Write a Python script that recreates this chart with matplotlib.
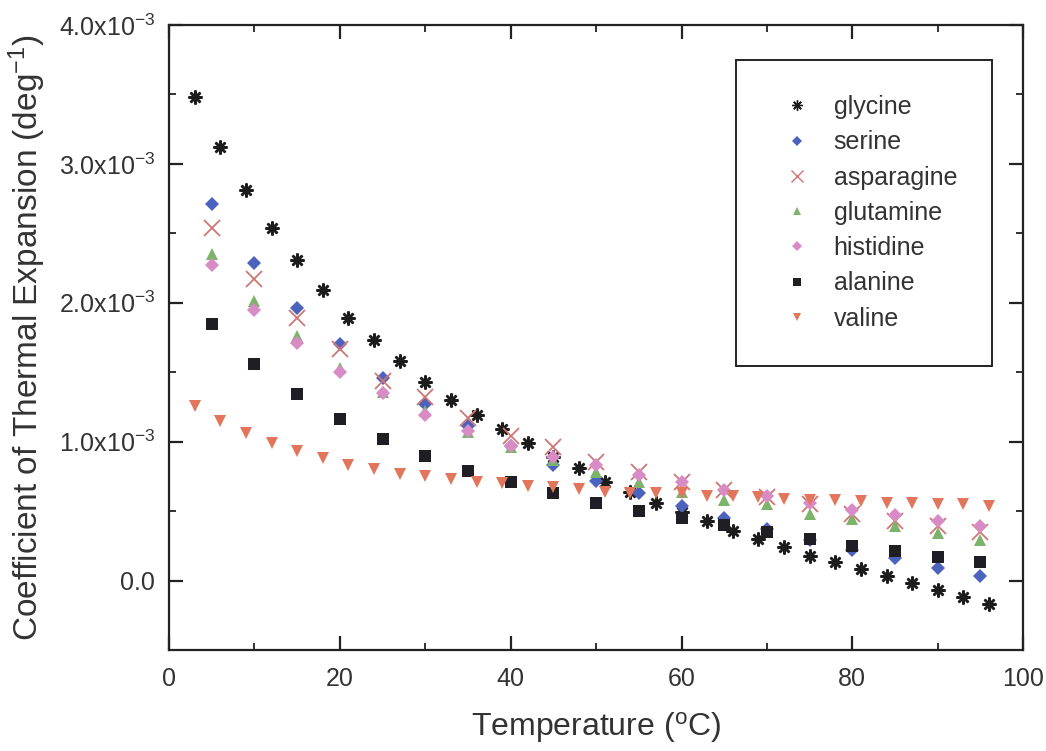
import matplotlib
matplotlib.use("Agg")
import matplotlib.pyplot as plt
from matplotlib.ticker import MultipleLocator, FuncFormatter

plt.rcParams['font.family'] = ['Liberation Sans', 'DejaVu Sans']
plt.rcParams['mathtext.fontset'] = 'custom'
plt.rcParams['mathtext.rm'] = 'Liberation Sans'
plt.rcParams['mathtext.it'] = 'Liberation Sans:italic'

# temperatures (deg C)
t_every3 = [3, 6, 9, 12, 15, 18, 21, 24, 27, 30, 33, 36, 39, 42, 45, 48,
            51, 54, 57, 60, 63, 66, 69, 72, 75, 78, 81, 84, 87, 90, 93, 96]
t_every5 = [5, 10, 15, 20, 25, 30, 35, 40, 45, 50,
            55, 60, 65, 70, 75, 80, 85, 90, 95]

# coefficients, in units of 1e-3 per degree
glycine = [3.48, 3.12, 2.81, 2.54, 2.31, 2.09, 1.89, 1.73, 1.58, 1.43, 1.30,
           1.19, 1.09, 0.99, 0.89, 0.81, 0.71, 0.64, 0.56, 0.49, 0.43, 0.36,
           0.30, 0.24, 0.18, 0.13, 0.08, 0.03, -0.02, -0.07, -0.12, -0.17]
serine = [2.71, 2.29, 1.96, 1.70, 1.46, 1.27, 1.11, 0.97, 0.83, 0.72,
          0.63, 0.54, 0.45, 0.37, 0.29, 0.22, 0.16, 0.09, 0.03]
asparagine = [2.54, 2.17, 1.89, 1.67, 1.44, 1.32, 1.17, 1.04, 0.96, 0.85,
              0.78, 0.71, 0.65, 0.60, 0.55, 0.48, 0.43, 0.39, 0.35]
glutamine = [2.35, 2.01, 1.76, 1.53, 1.36, 1.22, 1.07, 0.96, 0.87, 0.78,
             0.71, 0.64, 0.58, 0.55, 0.48, 0.44, 0.39, 0.34, 0.29]
histidine = [2.27, 1.95, 1.71, 1.50, 1.35, 1.19, 1.08, 0.97, 0.89, 0.83,
             0.76, 0.71, 0.65, 0.61, 0.56, 0.51, 0.47, 0.43, 0.39]
alanine = [1.85, 1.56, 1.34, 1.16, 1.02, 0.90, 0.79, 0.71, 0.63, 0.56,
           0.50, 0.45, 0.40, 0.35, 0.30, 0.25, 0.21, 0.17, 0.13]
valine = [1.26, 1.15, 1.06, 0.99, 0.93, 0.88, 0.83, 0.80, 0.77, 0.75, 0.73,
          0.71, 0.70, 0.68, 0.67, 0.66, 0.64, 0.63, 0.63, 0.63, 0.61, 0.61,
          0.60, 0.59, 0.58, 0.58, 0.57, 0.56, 0.56, 0.55, 0.55, 0.54]

# name, temps, values, marker, colour, size, edge width
series = [
    ("glycine", t_every3, glycine, (8, 2, 0), "#1c1c1c", 10, 1.8),
    ("serine", t_every5, serine, "D", "#4c63bd", 7, 0),
    ("asparagine", t_every5, asparagine, "x", "#cf7674", 11, 1.3),
    ("glutamine", t_every5, glutamine, "^", "#7db36a", 8, 0),
    ("histidine", t_every5, histidine, "D", "#d98bc6", 7, 0),
    ("alanine", t_every5, alanine, "s", "#1e1e24", 8, 0),
    ("valine", t_every3, valine, "v", "#e2765c", 8, 0),
]

fig = plt.figure(figsize=(10.46, 7.51), dpi=100)
ax = fig.add_axes([0.1616, 0.1345, 0.8166, 0.8322])

for name, tx, vals, mk, col, ms, mew in series:
    ax.plot(tx, [v * 1e-3 for v in vals], linestyle="none", marker=mk,
            color=col, markersize=ms, markeredgewidth=mew, label=name)

ax.set_xlim(0, 100)
ax.set_ylim(-0.5e-3, 4.0e-3)
ax.xaxis.set_major_locator(MultipleLocator(20))
ax.xaxis.set_minor_locator(MultipleLocator(10))
ax.yaxis.set_major_locator(MultipleLocator(1e-3))
ax.yaxis.set_minor_locator(MultipleLocator(0.5e-3))


def yfmt(v, pos):
    m = round(v * 1e3, 1)
    if abs(m) < 1e-9:
        return "0.0"
    return r"%.1fx10$^{\mathrm{-3}}$" % m


ax.yaxis.set_major_formatter(FuncFormatter(yfmt))
ax.tick_params(which="both", direction="in", top=True, right=True,
               colors="#222222", labelcolor="#333333")
ax.tick_params(which="major", length=10, width=1.6, labelsize=18)
ax.tick_params(axis="x", which="major", pad=12)
ax.tick_params(axis="y", which="major", pad=10)
ax.tick_params(which="minor", length=5, width=1.3)
for sp in ax.spines.values():
    sp.set_linewidth(1.6)
    sp.set_color("#222222")

ax.set_xlabel(r"Temperature ($^{\mathrm{o}}$C)", fontsize=23, color="#333333",
              labelpad=14)
ax.set_ylabel(r"Coefficient of Thermal Expansion (deg$^{\mathrm{-1}}$)",
              fontsize=24, color="#333333", labelpad=8)

leg = ax.legend(loc="upper left", bbox_to_anchor=(0.664, 0.944),
                borderaxespad=0, fontsize=18, numpoints=1,
                handlelength=2.1, handletextpad=0.4, labelspacing=0.45,
                borderpad=1.4, fancybox=False, framealpha=1,
                edgecolor="#222222")
leg.get_frame().set_linewidth(1.4)
for txt in leg.get_texts():
    txt.set_color("#333333")
# legend symbols are drawn smaller than the data markers
for h in leg.legend_handles:
    h.set_markersize(h.get_markersize() * 0.75)
    if h.get_markeredgewidth() > 0:
        h.set_markeredgewidth(1.0)

fig.savefig("out.png", dpi=100)
